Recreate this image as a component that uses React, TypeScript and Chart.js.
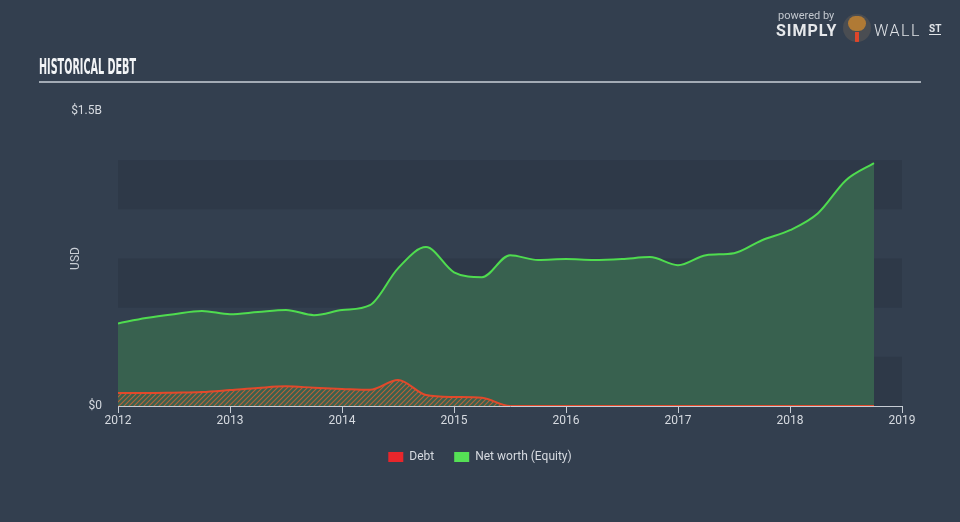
import React, { useEffect, useRef } from "react";
import { Chart, registerables } from "chart.js";

Chart.register(...registerables);

// ---- data (values in billions of USD) ----
const quarters = [
  2012, 2012.25, 2012.5, 2012.75,
  2013, 2013.25, 2013.5, 2013.75,
  2014, 2014.25, 2014.5, 2014.75,
  2015, 2015.25, 2015.5, 2015.75,
  2016, 2016.25, 2016.5, 2016.75,
  2017, 2017.25, 2017.5, 2017.75,
  2018, 2018.25, 2018.5, 2018.75,
];
const debtValues = [
  0.066, 0.066, 0.068, 0.071,
  0.081, 0.092, 0.1, 0.093,
  0.087, 0.082, 0.132, 0.056,
  0.046, 0.042, 0, 0,
  0, 0, 0, 0,
  0, 0, 0, 0,
  0, 0, 0, 0,
];
const equityValues = [
  0.42, 0.447, 0.467, 0.483,
  0.467, 0.478, 0.488, 0.462,
  0.488, 0.513, 0.7, 0.808,
  0.68, 0.655, 0.767, 0.742,
  0.747, 0.742, 0.747, 0.757,
  0.716, 0.767, 0.777, 0.843,
  0.894, 0.98, 1.148, 1.235,
];
const seriesNames = ["Debt", "Net worth (Equity)"];
const xTickYears = [2012, 2013, 2014, 2015, 2016, 2017, 2018, 2019];
const yTickValues = [0, 1.5];
const yTickLabels = ["$0", "$1.5B"];
const bandStarts = [0, 0.5, 1.0];
const bandSize = 0.25;

const BG = "#333f4f";
const FONT = "Roboto, 'Open Sans', sans-serif";

export default function App() {
  const canvasRef = useRef<HTMLCanvasElement | null>(null);
  const titleRef = useRef<HTMLSpanElement | null>(null);

  useEffect(() => {
    document.body.style.margin = "0";
    if (titleRef.current) {
      const w = titleRef.current.getBoundingClientRect().width;
      if (w > 0) titleRef.current.style.transform = `scaleX(${97 / w})`;
    }
    const canvas = canvasRef.current;
    if (!canvas) return;

    const pc = document.createElement("canvas");
    pc.width = 5;
    pc.height = 5;
    const pctx = pc.getContext("2d")!;
    pctx.strokeStyle = "rgba(218,98,50,0.8)";
    pctx.lineWidth = 1.1;
    pctx.beginPath();
    pctx.moveTo(0, 5);
    pctx.lineTo(5, 0);
    pctx.moveTo(-1, 1);
    pctx.lineTo(1, -1);
    pctx.moveTo(4, 6);
    pctx.lineTo(6, 4);
    pctx.stroke();
    const hatch = canvas.getContext("2d")!.createPattern(pc, "repeat")!;

    const bandPlugin = {
      id: "bands",
      beforeDatasetsDraw(chart: any) {
        const { ctx, chartArea, scales } = chart;
        const y = scales.y;
        ctx.save();
        ctx.fillStyle = "#2e3948";
        for (const s of bandStarts) {
          const top = y.getPixelForValue(s + bandSize);
          const bot = y.getPixelForValue(s);
          ctx.fillRect(chartArea.left, top, chartArea.right - chartArea.left, bot - top);
        }
        ctx.restore();
      },
    };

    const chart = new Chart(canvas, {
      type: "line",
      data: {
        datasets: [
          {
            label: seriesNames[0],
            data: quarters.map((q, i) => ({ x: q, y: debtValues[i] })),
            borderColor: "#e2492b",
            backgroundColor: hatch,
            borderWidth: 2,
            fill: "origin",
            pointRadius: 0,
            cubicInterpolationMode: "monotone",
          },
          {
            label: seriesNames[1],
            data: quarters.map((q, i) => ({ x: q, y: equityValues[i] })),
            borderColor: "#4fdc4f",
            backgroundColor: "#38614f",
            borderWidth: 2,
            fill: "origin",
            pointRadius: 0,
            cubicInterpolationMode: "monotone",
          },
        ],
      },
      options: {
        animation: false,
        responsive: false,
        devicePixelRatio: 1,
        layout: { padding: { left: 0, top: 111, right: 0, bottom: 49 } },
        plugins: {
          tooltip: { enabled: false },
          legend: {
            position: "bottom",
            labels: {
              color: "#d6dae0",
              font: { family: FONT, size: 12 },
              boxWidth: 15,
              boxHeight: 10,
              padding: 20,
              generateLabels: () => [
                { text: seriesNames[0], fillStyle: "#e8262b", strokeStyle: "#e8262b", lineWidth: 0, datasetIndex: 0, fontColor: "#d6dae0" },
                { text: seriesNames[1], fillStyle: "#55e055", strokeStyle: "#55e055", lineWidth: 0, datasetIndex: 1, fontColor: "#d6dae0" },
              ],
            },
          },
        },
        scales: {
          x: {
            type: "linear",
            min: xTickYears[0],
            max: xTickYears[xTickYears.length - 1],
            afterBuildTicks: (s: any) => {
              s.ticks = xTickYears.map((v) => ({ value: v }));
            },
            afterFit: (s: any) => {
              s.height = 25;
            },
            ticks: {
              color: "#d6dae0",
              font: { family: FONT, size: 12 },
              padding: 1,
              maxRotation: 0,
              callback: (v: any) => String(v),
            },
            grid: {
              display: true,
              drawOnChartArea: false,
              drawTicks: true,
              tickLength: 7,
              color: "#c6ccd4",
            },
            border: { display: true, color: "#c6ccd4", width: 1 },
          },
          y: {
            min: 0,
            max: 1.5,
            afterBuildTicks: (s: any) => {
              s.ticks = yTickValues.map((v) => ({ value: v }));
            },
            afterFit: (s: any) => {
              s.width = 118;
            },
            ticks: {
              color: "#d6dae0",
              font: { family: FONT, size: 12 },
              padding: 8,
              callback: (v: any) => {
                const i = yTickValues.indexOf(Number(v));
                return i >= 0 ? yTickLabels[i] : "";
              },
            },
            grid: { display: false },
            border: { display: false },
            title: {
              display: true,
              text: "USD",
              color: "#c8cdd4",
              font: { family: FONT, size: 12 },
              padding: { top: 69, bottom: 0 },
            },
          },
          yRight: {
            type: "linear",
            position: "right",
            display: true,
            min: 0,
            max: 1.5,
            grid: { display: false, drawTicks: false },
            border: { display: false },
            ticks: { display: false },
            afterFit: (s: any) => {
              s.width = 58;
            },
          },
        },
      },
      plugins: [bandPlugin],
    });
    return () => chart.destroy();
  }, []);

  return (
    <div
      style={{
        position: "fixed",
        left: 0,
        top: 0,
        width: 960,
        height: 522,
        background: BG,
        overflow: "hidden",
        fontFamily: FONT,
      }}
    >
      <canvas ref={canvasRef} width={960} height={522} style={{ position: "absolute", left: 0, top: 0, display: "block" }} />
      <div style={{ position: "absolute", left: 39, top: 56, whiteSpace: "nowrap" }}>
        <span
          ref={titleRef}
          style={{
            display: "inline-block",
            transformOrigin: "left top",
            fontFamily: "'DejaVu Sans Condensed', 'DejaVu Sans', sans-serif",
            fontWeight: 700,
            fontSize: 21,
            color: "#f2f4f6",
            lineHeight: "22px",
          }}
        >
          HISTORICAL DEBT
        </span>
      </div>
      <div style={{ position: "absolute", left: 39, top: 81, width: 882, height: 2, background: "#a3abb5" }} />
      {/* logo */}
      <div style={{ position: "absolute", left: 778, top: 9, fontSize: 11, color: "#c3c8cf", lineHeight: "13px" }}>powered by</div>
      <div style={{ position: "absolute", left: 776, top: 22, fontSize: 16, fontWeight: 700, color: "#e6e8eb", letterSpacing: 1, lineHeight: "18px" }}>SIMPLY</div>
      <div style={{ position: "absolute", left: 843, top: 14, width: 28, height: 28, borderRadius: 14, background: "#4a4d52", overflow: "hidden" }}>
        <div style={{ position: "absolute", left: 5, top: 2, width: 18, height: 15, borderRadius: 8, background: "#b07a35" }} />
        <div style={{ position: "absolute", left: 12, top: 18, width: 4, height: 10, background: "#e0462a" }} />
      </div>
      <div style={{ position: "absolute", left: 874, top: 22, fontSize: 16, fontWeight: 300, color: "#e0e3e7", letterSpacing: 1.5, lineHeight: "18px" }}>WALL</div>
      <div style={{ position: "absolute", left: 929, top: 23, fontSize: 10, fontWeight: 700, color: "#e0e3e7", lineHeight: "11px", borderBottom: "1.5px solid #e0e3e7" }}>ST</div>
    </div>
  );
}
